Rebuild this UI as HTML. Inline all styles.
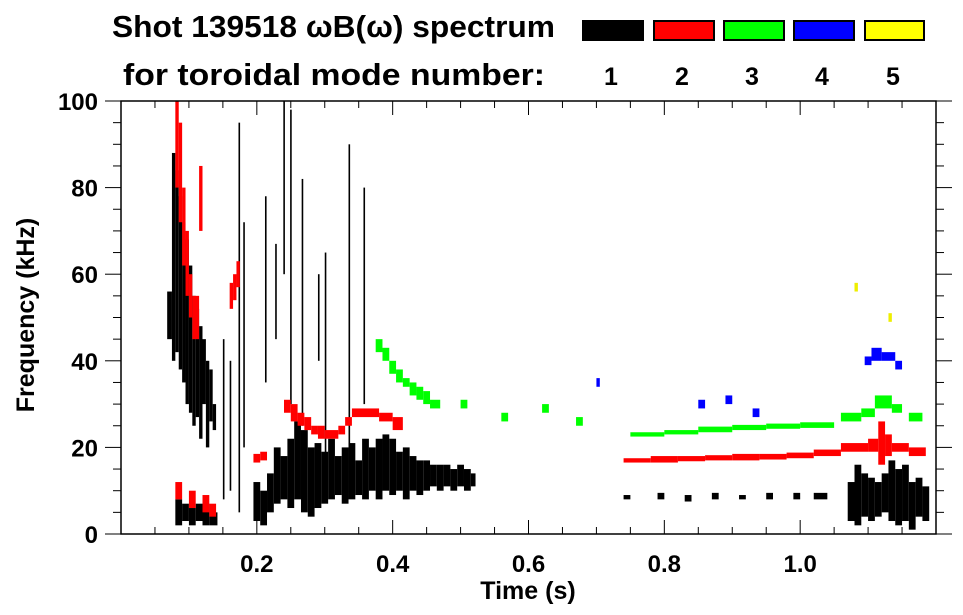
<!DOCTYPE html>
<html><head><meta charset="utf-8"><style>
body{margin:0;background:#fff;}
svg{display:block;font-family:"Liberation Sans",Arial,sans-serif;font-weight:bold;}
</style></head><body>
<svg id="chart" width="963" height="615" viewBox="0 0 963 615" xmlns="http://www.w3.org/2000/svg">
<text x="112" y="37" font-size="31" textLength="443" lengthAdjust="spacingAndGlyphs">Shot 139518 ωB(ω) spectrum</text>
<text x="123" y="85" font-size="31" textLength="422" lengthAdjust="spacingAndGlyphs">for toroidal mode number:</text>
<g>
<rect x="583" y="21" width="60" height="19" fill="#000" stroke="#000" stroke-width="2"/>
<rect x="654" y="21" width="60" height="19" fill="#f00" stroke="#000" stroke-width="2"/>
<rect x="724" y="21" width="60" height="19" fill="#0f0" stroke="#000" stroke-width="2"/>
<rect x="794" y="21" width="60" height="19" fill="#00f" stroke="#000" stroke-width="2"/>
<rect x="865" y="21" width="59" height="19" fill="#ff0" stroke="#000" stroke-width="2"/>
<text x="611" y="85" font-size="25" text-anchor="middle">1</text>
<text x="682" y="85" font-size="25" text-anchor="middle">2</text>
<text x="752" y="85" font-size="25" text-anchor="middle">3</text>
<text x="822" y="85" font-size="25" text-anchor="middle">4</text>
<text x="893" y="85" font-size="25" text-anchor="middle">5</text>
</g>
<g id="marks"></g>
<g id="axes"></g>
<text x="528" y="599" font-size="25" text-anchor="middle">Time (s)</text>
<text transform="translate(34,315) rotate(-90)" font-size="25" text-anchor="middle">Frequency (kHz)</text>
</svg>
<script>
// [t0, t1, fLow, fHigh]
const mode1Band = [
[0.068,0.075,45,56],[0.075,0.080,40,88],[0.080,0.085,42,84],[0.085,0.090,38,78],[0.090,0.095,35,72],
[0.095,0.100,30,68],[0.100,0.105,28,62],[0.105,0.110,25,55],[0.110,0.115,27,52],[0.115,0.120,22,48],
[0.120,0.125,30,45],[0.125,0.130,20,40],[0.130,0.135,26,38],[0.135,0.140,24,30],
[0.080,0.090,2,8],[0.090,0.100,3,7],[0.100,0.110,2,6],[0.110,0.120,3,7],[0.120,0.130,2,7],[0.130,0.142,2,5],
[0.195,0.205,3,12],[0.205,0.215,2,10],[0.215,0.225,5,14],[0.225,0.235,7,20],[0.235,0.245,8,18],
[0.245,0.255,6,22],[0.255,0.265,8,26],[0.265,0.275,5,24],[0.275,0.285,4,20],[0.285,0.295,6,21],
[0.295,0.305,7,19],[0.305,0.315,8,22],[0.315,0.325,9,18],[0.325,0.335,7,20],[0.335,0.345,8,21],
[0.345,0.355,9,17],[0.355,0.365,8,22],[0.365,0.375,10,20],[0.375,0.385,8,22],[0.385,0.395,10,23],
[0.395,0.405,9,22],[0.405,0.415,10,19],[0.415,0.425,8,20],[0.425,0.435,10,18],[0.435,0.445,9,17],
[0.445,0.455,10,17],[0.455,0.465,11,16],[0.465,0.475,10,16],[0.475,0.485,11,16],[0.485,0.495,10,15],
[0.495,0.505,11,16],[0.505,0.515,10,15],[0.515,0.522,11,14],
[0.74,0.75,8,9],[0.79,0.80,8,9.5],[0.83,0.84,7.5,9],[0.87,0.88,8,9.5],[0.91,0.92,8,9],[0.95,0.96,8,9.5],[0.99,1.00,8,9.5],[1.02,1.04,8,9.5],
[1.070,1.080,3,12],[1.080,1.090,2,16],[1.090,1.100,4,14],[1.100,1.110,3,13],[1.110,1.120,4,12],
[1.120,1.130,5,14],[1.130,1.140,3,17],[1.140,1.150,2,15],[1.150,1.160,3,16],[1.160,1.170,1,12],
[1.170,1.180,4,13],[1.180,1.190,3,11]
];
const mode1Streaks = [
[0.173,5,95],[0.180,20,72],[0.212,35,78],[0.227,45,67],[0.239,60,100],[0.249,30,98],
[0.266,25,82],[0.300,15,65],[0.335,20,90],[0.357,30,80],[0.290,40,60],[0.150,8,45],[0.160,10,40]
];
const mode2Band = [
[0.080,0.085,80,100],[0.085,0.090,72,95],[0.090,0.095,62,80],[0.095,0.100,55,70],[0.100,0.105,50,60],
[0.105,0.115,45,55],[0.115,0.120,70,85],[0.160,0.165,52,58],[0.165,0.170,54,60],[0.170,0.175,57,63],
[0.080,0.090,8,12],[0.100,0.110,6,10],[0.120,0.130,5,9],[0.130,0.140,4,7],
[0.195,0.205,16.5,18.5],[0.205,0.215,17,19],
[0.240,0.250,28,31],[0.250,0.260,26,30],[0.260,0.270,25,28],[0.270,0.280,24,27],[0.280,0.290,23,25],
[0.290,0.300,22,25],[0.300,0.320,22,24],[0.320,0.330,23,25],[0.330,0.340,25,27],[0.340,0.360,27,29],
[0.360,0.380,27,29],[0.380,0.400,26,28],[0.400,0.415,24,27],
[0.74,0.78,16.5,17.5],[0.78,0.82,16.5,18],[0.82,0.86,16.8,18],[0.86,0.90,17,18.2],[0.90,0.94,17,18.5],
[0.94,0.98,17.2,18.5],[0.98,1.02,17.5,18.8],[1.02,1.06,18,19.5],[1.06,1.10,19,21],[1.10,1.115,19,22],
[1.115,1.125,16,26],[1.125,1.135,18,23],[1.135,1.16,19,21],[1.16,1.185,18,20]
];
const mode3Band = [
[0.375,0.385,42,45],[0.385,0.395,40,43],[0.395,0.405,37,40],[0.405,0.415,35,38],[0.415,0.425,34,36],
[0.425,0.435,32,35],[0.435,0.445,31,34],[0.445,0.455,30,33],[0.455,0.47,29,31],
[0.50,0.51,29,31],[0.56,0.57,26,28],[0.62,0.63,28,30],[0.67,0.68,25,27],
[0.75,0.80,22.5,23.5],[0.80,0.85,23,24],[0.85,0.90,23.5,24.8],[0.90,0.95,24,25.2],[0.95,1.00,24.3,25.5],
[1.00,1.05,24.5,25.8],[1.06,1.09,26,28],[1.09,1.11,27,29],[1.11,1.135,29,32],[1.135,1.15,28,30],[1.16,1.18,26,28]
];
const mode4Band = [
[0.70,0.705,34,36],[0.85,0.86,29,31],[0.89,0.90,30,32],[0.93,0.94,27,29],
[1.095,1.105,39,41],[1.105,1.12,40,43],[1.12,1.14,40,42],[1.14,1.15,38,40]
];
const mode5Band = [
[1.08,1.085,56,58],[1.13,1.135,49,51]
];
const xTicks = [0.2,0.4,0.6,0.8,1.0];
const xTickLabels = ["0.2","0.4","0.6","0.8","1.0"];
const yTicks = [0,20,40,60,80,100];
const yTickLabels = ["0","20","40","60","80","100"];

const X0=121,X1=936,Y0=534,Y1=101;
const tMin=0,tMax=1.2,fMin=0,fMax=100;
function xs(t){return X0+(t-tMin)/(tMax-tMin)*(X1-X0);}
function ys(f){return Y0-(f-fMin)/(fMax-fMin)*(Y0-Y1);}
const NS="http://www.w3.org/2000/svg";
const marks=document.getElementById('marks');
const axes=document.getElementById('axes');
function mk(tag,attrs,parent){const e=document.createElementNS(NS,tag);for(const k in attrs)e.setAttribute(k,attrs[k]);parent.appendChild(e);return e;}

function drawBand(arr,color,name){
  arr.forEach(function(d){
    const r=mk('rect',{x:xs(d[0]),y:ys(d[3]),width:Math.max(1,xs(d[1])-xs(d[0])),height:Math.max(1,ys(d[2])-ys(d[3])),fill:color},marks);
    
    
  });
}
drawBand(mode1Band,'#000','mode-1-cell');
mode1Streaks.forEach(function(d){
  const r=mk('rect',{x:xs(d[0]),y:ys(d[2]),width:1.6,height:ys(d[1])-ys(d[2]),fill:'#000'},marks);
  
  
});
drawBand(mode2Band,'#f00','mode-2-cell');
drawBand(mode3Band,'#0f0','mode-3-cell');
drawBand(mode4Band,'#00f','mode-4-cell');
drawBand(mode5Band,'#ee0','mode-5-cell');

const fr=mk('rect',{x:X0,y:Y1,width:X1-X0,height:Y0-Y1,fill:'none',stroke:'#000','stroke-width':1.5},axes);


for(let i=0;i<=24;i++){
  const t=i*0.05, x=xs(t), major=(i%4===0);
  const L=major?14:7;
  const a=mk('line',{x1:x,x2:x,y1:Y0,y2:Y0-L,stroke:'#000','stroke-width':1},axes);
  
  
  const b=mk('line',{x1:x,x2:x,y1:Y1,y2:Y1+L,stroke:'#000','stroke-width':1},axes);
  
  
}
xTicks.forEach(function(t,i){
  const tx=mk('text',{x:xs(t),y:572,'font-size':24,'text-anchor':'middle'},axes);
  tx.textContent=xTickLabels[i];
  
  
});
for(let i=0;i<=20;i++){
  const f=i*5, y=ys(f), major=(i%4===0);
  const L=major?16:8;
  const a=mk('line',{x1:X0,x2:X0-L,y1:y,y2:y,stroke:'#000','stroke-width':1},axes);
  
  
  const b=mk('line',{x1:X1,x2:X1+L,y1:y,y2:y,stroke:'#000','stroke-width':1},axes);
  
  
}
yTicks.forEach(function(f,i){
  const tx=mk('text',{x:98,y:ys(f)+9,'font-size':24,'text-anchor':'end'},axes);
  tx.textContent=yTickLabels[i];
  
  
});
</script>
</body></html>
